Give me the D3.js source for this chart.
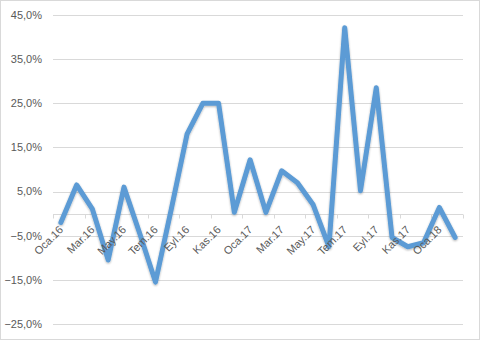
<!DOCTYPE html>
<html>
<head>
<meta charset="utf-8">
<script src="https://cdn.jsdelivr.net/npm/d3@7"></script>
<style>
  body { margin: 0; background: #fff; }
  svg { display: block; font-family: "Liberation Sans", Arial, sans-serif; }
</style>
</head>
<body>
<div id="chart"></div>
<script>
// Monthly change, Oca.16 .. Şub.18
const months = [
    'Oca.16', 'Şub.16', 'Mar.16', 'Nis.16', 'May.16', 'Haz.16',
    'Tem.16', 'Ağu.16', 'Eyl.16', 'Eki.16', 'Kas.16', 'Ara.16',
    'Oca.17', 'Şub.17', 'Mar.17', 'Nis.17', 'May.17', 'Haz.17',
    'Tem.17', 'Ağu.17', 'Eyl.17', 'Eki.17', 'Kas.17', 'Ara.17',
    'Oca.18', 'Şub.18'
];
const values = [
    -2.0, 6.5, 1.0, -10.5, 6.0, -4.5,
    -15.5, 1.0, 18.0, 25.0, 25.0, 0.3,
    12.2, 0.3, 9.7, 7.0, 2.0, -7.5,
    42.1, 5.2, 28.5, -5.4, -7.5, -6.6,
    1.4, -5.4
];
const yTicks = [-25, -15, -5, 5, 15, 25, 35, 45];

const width = 480, height = 340;
const margin = { top: 15, right: 17, bottom: 16, left: 53 };

const svg = d3.select('#chart')
    .append('svg')
    .attr('width', width)
    .attr('height', height);

// chart border
svg.append('rect')
    .attr('x', 0.5).attr('y', 0.5)
    .attr('width', width - 1).attr('height', height - 1)
    .attr('fill', '#fff')
    .attr('stroke', '#d9d9d9');

const x = d3.scaleBand()
    .domain(months)
    .range([margin.left, width - margin.right])
    .paddingInner(0).paddingOuter(0);

const y = d3.scaleLinear()
    .domain([-25, 45])
    .range([height - margin.bottom, margin.top]);

const tr = d3.formatLocale({ decimal: ',', thousands: '.', grouping: [3], currency: ['', ' TL'] });
const fmt = v => tr.format('.1f')(v) + '%';

// gridlines
svg.append('g')
    .selectAll('line')
    .data(yTicks)
    .enter()
    .append('line')
    .attr('x1', margin.left)
    .attr('x2', width - margin.right)
    .attr('y1', d => Math.round(y(d)) + 0.5)
    .attr('y2', d => Math.round(y(d)) + 0.5)
    .attr('stroke', '#d9d9d9');

// y labels
svg.append('g')
    .selectAll('text')
    .data(yTicks)
    .enter()
    .append('text')
    .attr('x', 42)
    .attr('y', d => y(d))
    .attr('dy', '0.35em')
    .attr('text-anchor', 'end')
    .attr('font-size', 11)
    .attr('fill', '#595959')
    .text(fmt);

// category axis on the zero line
const y0 = Math.round(y(0)) + 0.5;
svg.append('line')
    .attr('x1', margin.left).attr('x2', width - margin.right)
    .attr('y1', y0).attr('y2', y0)
    .attr('stroke', '#d9d9d9');

const tickPos = months.filter((m, i) => i % 2 === 0).map(m => x(m));
tickPos.push(width - margin.right);
svg.append('g')
    .selectAll('line')
    .data(tickPos)
    .enter()
    .append('line')
    .attr('x1', d => Math.round(d) + 0.5)
    .attr('x2', d => Math.round(d) + 0.5)
    .attr('y1', y0)
    .attr('y2', y0 + 4)
    .attr('stroke', '#d9d9d9');

// shadow filter for the line
const defs = svg.append('defs');
const f = defs.append('filter').attr('id', 'shadow')
    .attr('x', '-10%').attr('y', '-10%').attr('width', '120%').attr('height', '120%');
f.append('feGaussianBlur').attr('in', 'SourceAlpha').attr('stdDeviation', 1.2).attr('result', 'b');
f.append('feOffset').attr('in', 'b').attr('dx', 0).attr('dy', 1).attr('result', 'o');
f.append('feComponentTransfer').attr('in', 'o').attr('result', 'oa')
    .append('feFuncA').attr('type', 'linear').attr('slope', 0.3);
const fm = f.append('feMerge');
fm.append('feMergeNode').attr('in', 'oa');
fm.append('feMergeNode').attr('in', 'SourceGraphic');

const line = d3.line()
    .x((d, i) => x(months[i]) + x.bandwidth() / 2)
    .y(d => y(d));

svg.append('path')
    .datum(values)
    .attr('fill', 'none')
    .attr('stroke', '#5b9bd5')
    .attr('stroke-width', 5)
    .attr('stroke-linejoin', 'round')
    .attr('stroke-linecap', 'round')
    .attr('filter', 'url(#shadow)')
    .attr('d', line);

// category labels, every second month, written along 45° paths
const labelMonths = months.filter((m, i) => i % 2 === 0);
const L = 60, k = Math.SQRT1_2;
defs.selectAll('path.lp')
    .data(labelMonths)
    .enter()
    .append('path')
    .attr('class', 'lp')
    .attr('id', (d, i) => 'lp' + i)
    .attr('d', d => {
        const ex = x(d) + x.bandwidth() / 2 + 3, ey = y0 + 16;
        return 'M' + (ex - L * k) + ',' + (ey + L * k) + 'L' + ex + ',' + ey;
    });

svg.append('g')
    .selectAll('text')
    .data(labelMonths)
    .enter()
    .append('text')
    .attr('font-size', 11)
    .attr('fill', '#595959')
    .append('textPath')
    .attr('href', (d, i) => '#lp' + i)
    .attr('startOffset', '100%')
    .attr('text-anchor', 'end')
    .text(d => d);
</script>
</body>
</html>
